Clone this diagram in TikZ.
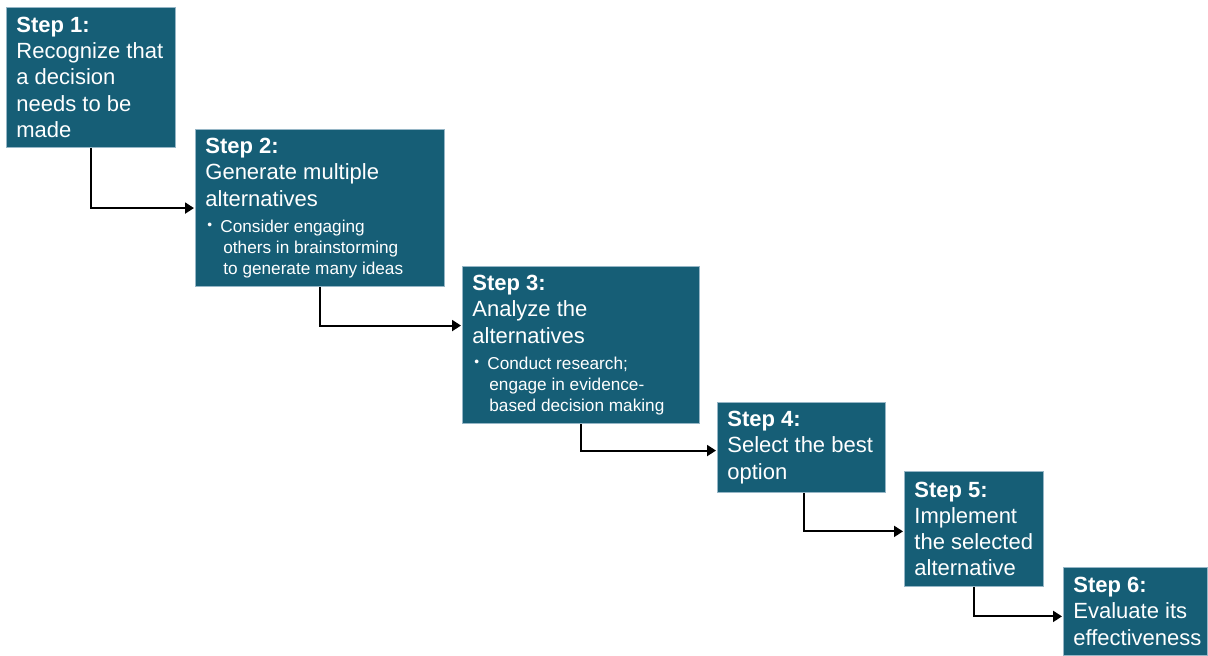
\documentclass[tikz,border=0pt]{standalone}
\usepackage{graphicx}
\usepackage{fontspec}
\setmainfont{Liberation Sans}
\usepackage{tikz}
\usetikzlibrary{positioning,arrows.meta}

\definecolor{stepblue}{RGB}{22,94,118}
\definecolor{stepedge}{RGB}{150,182,198}
\newcommand{\stepfont}{\fontsize{11}{13.1}\selectfont}
\newcommand{\stepbullet}{\makebox[7.5pt][l]{\hspace{1pt}\raisebox{0.3ex}{\scalebox{0.8}{\textbullet}}}}
\newcommand{\subtext}{\fontsize{8.6}{10.5}\selectfont}
\hyphenpenalty=10000
\exhyphenpenalty=10000

\begin{document}
\begin{tikzpicture}[x=0.5pt, y=-0.5pt,
  stepbox/.style={draw=stepedge, line width=0.4pt, fill=stepblue, text=white,
    anchor=north west, align=flush left, inner xsep=5pt, inner ysep=4.5pt,
    font=\stepfont},
  flow/.style={line width=1pt, -{Triangle[length=4.5pt,width=5.5pt]}, shorten >=0.5pt}]
\useasboundingbox (0,0) rectangle (1208,656);
% the six steps, top left to bottom right
\node[stepbox, text width=74.5pt, minimum height=70pt] (s1) at (6,7)
  {\textbf{Step 1:}\\Recognize~that\\a decision\\needs to be\\made};
\node[stepbox, text width=114.5pt, minimum height=77.5pt] (s2) at (195,129)
  {\textbf{Step 2:}\\Generate multiple\\alternatives\\[2.5pt]
   {\subtext\stepbullet Consider engaging\\\hspace*{9pt}others in brainstorming\\\hspace*{9pt}to generate many ideas\par}};
\node[stepbox, text width=108.5pt, minimum height=77.5pt] (s3) at (462,266)
  {\textbf{Step 3:}\\Analyze the\\alternatives\\[2.5pt]
   {\subtext\stepbullet Conduct research;\\\hspace*{8.5pt}engage in evidence-\\\hspace*{8.5pt}based decision making\par}};
\node[stepbox, text width=74pt, minimum height=44pt] (s4) at (717,402)
  {\textbf{Step 4:}\\Select~the~best\\option};
\node[stepbox, text width=59.5pt, minimum height=57.5pt] (s5) at (904,471)
  {\textbf{Step 5:}\\Implement\\the~selected\\alternative};
\node[stepbox, text width=62pt, minimum height=44pt] (s6) at (1063,567)
  {\textbf{Step 6:}\\Evaluate its\\effectiveness};
% elbow connectors
\draw[flow] (s1.south) |- (s2.west);
\draw[flow] (s2.south) |- ([yshift=9.75pt]s3.west);
\draw[flow] (s3.south) |- ([yshift=-1.5pt]s4.west);
\draw[flow] ([xshift=1.5pt]s4.south) |- ([yshift=-1.25pt]s5.west);
\draw[flow] (s5.south) |- ([yshift=-2.5pt]s6.west);
\end{tikzpicture}
\end{document}
